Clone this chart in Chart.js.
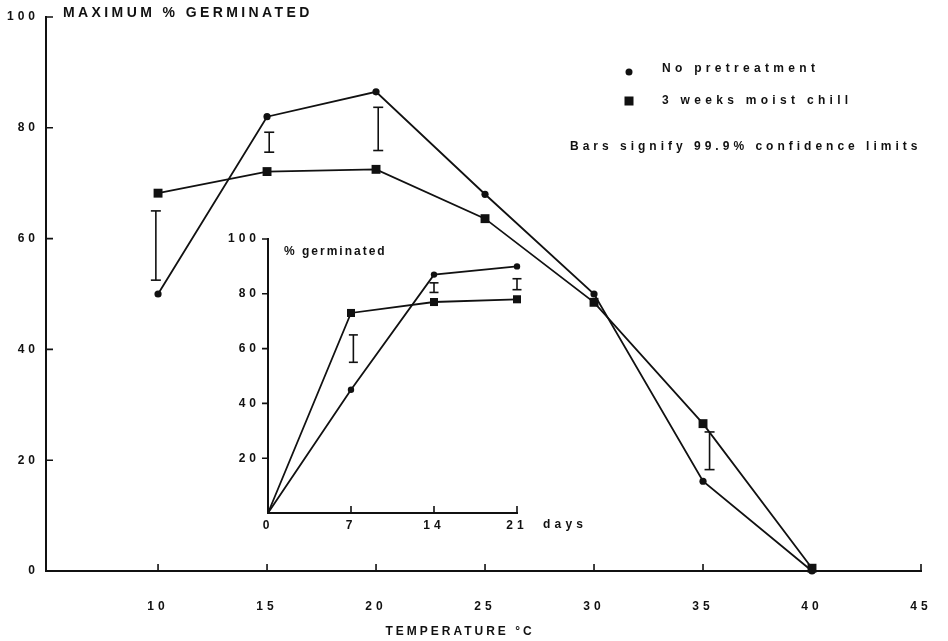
<!DOCTYPE html>
<html>
<head>
<meta charset="utf-8">
<script src="https://cdn.jsdelivr.net/npm/chart.js@4.4.1/dist/chart.umd.min.js"></script>
<style>
html,body{margin:0;padding:0;background:#fff;}
#wrap{position:relative;width:948px;height:641px;overflow:hidden;}
#main{position:absolute;left:0;top:0;}
#inset{position:absolute;left:220px;top:225px;}
</style>
</head>
<body>
<div id="wrap">
<canvas id="main" width="948" height="641"></canvas>
<canvas id="inset" width="390" height="320"></canvas>
</div>
<script>
// ---------- main chart data ----------
const temperatures = [10, 15, 20, 25, 30, 35, 40];
const noPretreatment = [50, 82, 86.5, 68, 50, 16.2, 0];
const moistChill = [68.2, 72.1, 72.5, 63.6, 48.5, 26.6, 0.5];
const errTemps = [9.9, 15.1, 20.1, 35.3];
const errLow = [52.5, 75.6, 75.9, 18.3];
const errHigh = [65, 79.2, 83.7, 25.1];
const xTickValues = [10, 15, 20, 25, 30, 35, 40, 45];
const yTickValues = [0, 20, 40, 60, 80, 100];

// ---------- inset data ----------
const days = [0, 7, 14, 21];
const insetNoPre = [0, 45, 87, 90];
const insetChill = [0, 73, 77, 78];
const insetErrDays = [7.2, 14, 21];
const insetErrLow = [55, 80.5, 81.5];
const insetErrHigh = [65, 84, 85.5];
const insetXTicks = [0, 7, 14, 21];
const insetYTicks = [0, 20, 40, 60, 80, 100];

const FONT = '"Liberation Sans", Arial, Helvetica, sans-serif';
const INK = '#111';

function pts(xs, ys) { return xs.map((x, i) => ({ x: x, y: ys[i] })); }

function errorSets(xs, lo, hi, capR) {
  return xs.map((x, i) => ({
    data: [{ x: x, y: lo[i] }, { x: x, y: hi[i] }],
    showLine: true, borderColor: INK, backgroundColor: INK, clip: false,
    borderWidth: 1.6, pointStyle: 'line', pointRadius: capR,
    pointBorderWidth: 1.6, pointBorderColor: INK
  }));
}

function txt(ctx, s, x, y, size, spacing, align, weight) {
  ctx.save();
  ctx.font = (weight || 'bold') + ' ' + size + 'px ' + FONT;
  ctx.letterSpacing = spacing + 'px';
  ctx.textAlign = align || 'left';
  ctx.textBaseline = 'middle';
  ctx.fillStyle = INK;
  ctx.fillText(s, x, y);
  ctx.restore();
}

// letter spacing for library-drawn tick labels
const spacingPlugin = {
  id: 'spacing',
  beforeDraw(chart, args, opts) { chart.ctx.letterSpacing = (opts.px || 0) + 'px'; }
};

// inward tick marks drawn at scale positions
const tickPlugin = {
  id: 'tickMarks',
  afterDraw(chart, args, opts) {
    const ctx = chart.ctx, a = chart.chartArea;
    ctx.save();
    ctx.strokeStyle = INK; ctx.lineWidth = 1.6;
    ctx.beginPath();
    (opts.x || []).forEach(v => {
      const px = chart.scales.x.getPixelForValue(v);
      ctx.moveTo(px, a.bottom); ctx.lineTo(px, a.bottom - opts.xLen);
    });
    (opts.y || []).forEach(v => {
      const py = chart.scales.y.getPixelForValue(v);
      ctx.moveTo(a.left, py); ctx.lineTo(a.left + opts.yLen, py);
    });
    ctx.stroke();
    ctx.restore();
  }
};

const mainText = {
  id: 'mainText',
  afterDraw(chart) {
    const ctx = chart.ctx;
    txt(ctx, 'MAXIMUM % GERMINATED', 63, 13, 14, 3.4);
    // legend
    ctx.save();
    ctx.fillStyle = INK;
    ctx.beginPath(); ctx.arc(629, 72, 3.5, 0, Math.PI * 2); ctx.fill();
    ctx.fillRect(624.5, 96.5, 9, 9);
    ctx.restore();
    txt(ctx, 'No pretreatment', 662, 69, 12, 4.3);
    txt(ctx, '3 weeks moist chill', 662, 101, 12, 4.3);
    txt(ctx, 'Bars signify 99.9% confidence limits', 570, 147, 12, 4.0);
    txt(ctx, 'TEMPERATURE °C', 460, 632, 12, 3.0, 'center');
  }
};

const insetText = {
  id: 'insetText',
  afterDraw(chart) {
    const ctx = chart.ctx;
    txt(ctx, '% germinated', 64, 27, 12, 2.0);
    txt(ctx, 'days', 323, 300, 12, 4.2);
  }
};

const tickFont = { family: FONT, size: 12, weight: 'bold' };

// ---------- main chart ----------
new Chart(document.getElementById('main'), {
  type: 'scatter',
  data: {
    datasets: [
      { label: 'No pretreatment', data: pts(temperatures, noPretreatment), showLine: true, clip: false,
        borderColor: INK, backgroundColor: INK, borderWidth: 1.8,
        pointStyle: 'circle', pointRadius: 3.6, pointBorderWidth: 0, pointBackgroundColor: INK },
      { label: '3 weeks moist chill', data: pts(temperatures, moistChill), showLine: true, clip: false,
        borderColor: INK, backgroundColor: INK, borderWidth: 1.8,
        pointStyle: 'rect', pointRadius: 6.3, pointBorderWidth: 0, pointBackgroundColor: INK },
      ...errorSets(errTemps, errLow, errHigh, 5)
    ]
  },
  options: {
    responsive: false, animation: false, devicePixelRatio: 1,
    layout: { padding: { top: 17, right: 27, left: 0, bottom: 0 } },
    plugins: {
      legend: { display: false }, tooltip: { enabled: false },
      spacing: { px: 4 },
      tickMarks: { x: xTickValues, xLen: 7, y: yTickValues, yLen: 7 }
    },
    scales: {
      x: {
        type: 'linear', min: 4.86, max: 45,
        afterBuildTicks: s => { s.ticks = xTickValues.map(v => ({ value: v })); },
        afterFit: s => { s.height = 70; s.paddingLeft = 0; s.paddingRight = 0; },
        grid: { display: false, drawTicks: false },
        border: { display: true, color: INK, width: 2 },
        ticks: { padding: 28, color: INK, font: tickFont, maxRotation: 0 }
      },
      y: {
        type: 'linear', min: 0, max: 100,
        afterBuildTicks: s => { s.ticks = yTickValues.map(v => ({ value: v })); },
        afterFit: s => { s.width = 46; s.paddingTop = 0; s.paddingBottom = 0; },
        grid: { display: false, drawTicks: false },
        border: { display: true, color: INK, width: 2 },
        ticks: { padding: 7, color: INK, font: tickFont }
      }
    }
  },
  plugins: [spacingPlugin, tickPlugin, mainText]
});

// ---------- inset chart ----------
const insetOutTicks = {
  id: 'insetOutTicks',
  afterDraw(chart) {
    const ctx = chart.ctx, a = chart.chartArea;
    ctx.save(); ctx.strokeStyle = INK; ctx.lineWidth = 1.6; ctx.beginPath();
    insetYTicks.filter(v => v > 0).forEach(v => {
      const py = chart.scales.y.getPixelForValue(v);
      ctx.moveTo(a.left, py); ctx.lineTo(a.left - 6, py);
    });
    insetXTicks.filter(v => v > 0).forEach(v => {
      const px = chart.scales.x.getPixelForValue(v);
      ctx.moveTo(px, a.bottom + 1); ctx.lineTo(px, a.bottom - 7);
    });
    ctx.stroke(); ctx.restore();
  }
};

new Chart(document.getElementById('inset'), {
  type: 'scatter',
  data: {
    datasets: [
      { label: 'No pretreatment', data: pts(days, insetNoPre), showLine: true, clip: false,
        borderColor: INK, backgroundColor: INK, borderWidth: 1.8,
        pointStyle: 'circle', pointRadius: [0, 3.2, 3.2, 3.2], pointBorderWidth: 0, pointBackgroundColor: INK },
      { label: '3 weeks moist chill', data: pts(days, insetChill), showLine: true, clip: false,
        borderColor: INK, backgroundColor: INK, borderWidth: 1.8,
        pointStyle: 'rect', pointRadius: [0, 5.7, 5.7, 5.7], pointBorderWidth: 0, pointBackgroundColor: INK },
      ...errorSets(insetErrDays, insetErrLow, insetErrHigh, 4.5)
    ]
  },
  options: {
    responsive: false, animation: false, devicePixelRatio: 1,
    layout: { padding: { top: 14, right: 93, left: 0, bottom: 0 } },
    plugins: { legend: { display: false }, tooltip: { enabled: false }, spacing: { px: 4 } },
    scales: {
      x: {
        type: 'linear', min: 0, max: 21,
        afterBuildTicks: s => { s.ticks = insetXTicks.map(v => ({ value: v })); },
        afterFit: s => { s.height = 32; s.paddingLeft = 0; s.paddingRight = 0; },
        grid: { display: false, drawTicks: false },
        border: { display: true, color: INK, width: 2 },
        ticks: { padding: 5, color: INK, font: tickFont, maxRotation: 0 }
      },
      y: {
        type: 'linear', min: 0, max: 100,
        afterBuildTicks: s => { s.ticks = insetYTicks.map(v => ({ value: v })); },
        afterFit: s => { s.width = 48; s.paddingTop = 0; s.paddingBottom = 0; },
        grid: { display: false, drawTicks: false },
        border: { display: true, color: INK, width: 2 },
        ticks: { padding: 8, color: INK, font: tickFont,
                 callback: v => (v === 0 ? '' : String(v)) }
      }
    }
  },
  plugins: [spacingPlugin, insetOutTicks, insetText]
});
</script>
</body>
</html>
